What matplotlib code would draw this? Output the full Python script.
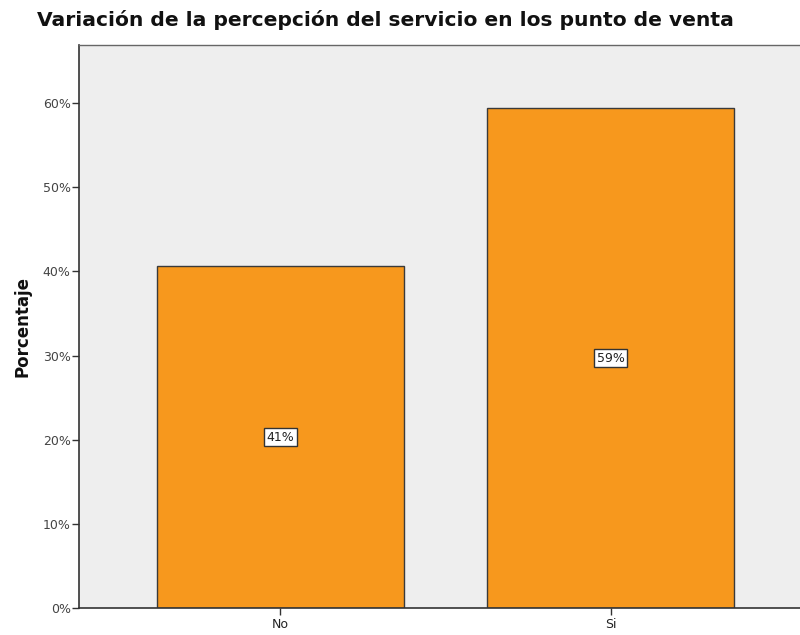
import matplotlib
matplotlib.use("Agg")
import matplotlib.pyplot as plt
from matplotlib.ticker import FuncFormatter

categories = ["No", "Si"]
percentages = [40.6, 59.4]
bar_labels = ["41%", "59%"]
yticks = [0, 10, 20, 30, 40, 50, 60]

plt.rcParams["font.family"] = ["DejaVu Sans"]

fig = plt.figure(figsize=(8, 6.35), dpi=100)
ax = fig.add_axes([79 / 800, 27 / 635, 733 / 800, 563 / 635])
ax.set_facecolor("#eeeeee")

x = range(len(categories))
ax.bar(x, percentages, width=0.75, color="#f7981d", edgecolor="#3a3a3a", linewidth=1.0)

for xi, val, lab in zip(x, percentages, bar_labels):
    ax.text(xi, val / 2, lab, ha="center", va="center", fontsize=9, color="#222222",
            bbox=dict(boxstyle="square,pad=0.2", facecolor="white", edgecolor="#333333", linewidth=1))

ax.set_xlim(-0.61, 1.61)
ax.set_ylim(0, 66.9)
ax.set_xticks(list(x))
ax.set_xticklabels(categories, fontsize=9, color="#222222")
ax.set_yticks(yticks)
ax.yaxis.set_major_formatter(FuncFormatter(lambda v, p: f"{int(v)}%"))
ax.tick_params(axis="y", labelsize=9, labelcolor="#444444", length=5, width=1, color="#333333", pad=1)
ax.tick_params(axis="x", length=5, width=1, color="#333333", pad=2)

for side in ["left", "bottom"]:
    ax.spines[side].set_color("#333333")
    ax.spines[side].set_linewidth(1.2)
for side in ["top", "right"]:
    ax.spines[side].set_color("#666666")
    ax.spines[side].set_linewidth(1.0)

ax.set_ylabel("Porcentaje", fontsize=12, fontweight="bold", color="#111111", labelpad=8)

fig.text(385 / 800, 1 - 20 / 635, "Variación de la percepción del servicio en los punto de venta",
         ha="center", va="center", fontsize=14.6, fontweight="bold", color="#111111")

fig.savefig("out.png", dpi=100, facecolor="white")
